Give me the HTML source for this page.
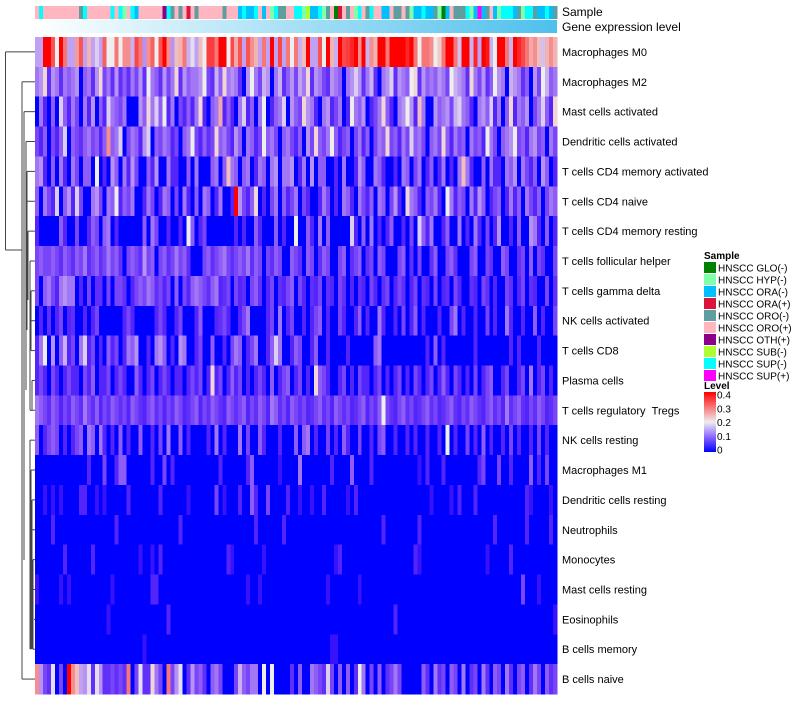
<!DOCTYPE html>
<html><head><meta charset="utf-8"><style>
html,body{margin:0;padding:0;background:#fff;}
body{width:800px;height:700px;overflow:hidden;font-family:"Liberation Sans",sans-serif;}
svg text{font-family:"Liberation Sans",sans-serif;white-space:pre;}
</style></head><body>
<svg id="chart" width="800" height="700" xmlns="http://www.w3.org/2000/svg" shape-rendering="crispEdges">
<defs>
<linearGradient id="geneGrad" x1="0" x2="1" y1="0" y2="0"><stop offset="0" stop-color="#ffffff"/><stop offset="1" stop-color="#4ec0ec"/></linearGradient>
<linearGradient id="levelGrad" x1="0" x2="0" y1="1" y2="0"><stop offset="0" stop-color="#0000ff"/><stop offset="0.25" stop-color="#8a66ff"/><stop offset="0.5" stop-color="#eeeeee"/><stop offset="1" stop-color="#ff0000"/></linearGradient>
</defs>
<g id="annot"></g>
<rect x="35" y="20" width="522" height="13" fill="url(#geneGrad)"/>
<text x="562" y="16" font-size="12">Sample</text>
<text x="562" y="31" font-size="12">Gene expression level</text>
<g id="cells"></g>
<g id="rowlabels"></g>
<g id="dendro" stroke="#444" stroke-width="1" fill="none" shape-rendering="auto"></g>
<g id="legend"></g>
</svg>
<script>
const rowNames=["Macrophages M0","Macrophages M2","Mast cells activated","Dendritic cells activated","T cells CD4 memory activated","T cells CD4 naive","T cells CD4 memory resting","T cells follicular helper","T cells gamma delta","NK cells activated","T cells CD8","Plasma cells","T cells regulatory\u00a0\u00a0Tregs","NK cells resting","Macrophages M1","Dendritic cells resting","Neutrophils","Monocytes","Mast cells resting","Eosinophils","B cells memory","B cells naive"];
const sampleCats=["HNSCC GLO(-)","HNSCC HYP(-)","HNSCC ORA(-)","HNSCC ORA(+)","HNSCC ORO(-)","HNSCC ORO(+)","HNSCC OTH(+)","HNSCC SUB(-)","HNSCC SUP(-)","HNSCC SUP(+)"];
const sampleColors=["#008000","#7fffaa","#00bfff","#dc143c","#5f9ea0","#ffb6c1","#8b008b","#adff2f","#00ffff","#ff00ff"];
const sampleSeq="PCPPPPPPPPPTCPPPPPPCPCHPCDPPPPPPOCTPTPRPTPPPPPPTPPPDCDDCPDPHCTTPPCCHSDDCHTPGRPTPHCPTCPPDDPTTPTHDDCDDTHGDPTTTCHDMDTPDHCCCDTHCCTDDCDT";
const sampleCode={G:0,H:1,D:2,R:3,T:4,P:5,O:6,S:7,C:8,M:9};
const levelTicks=[0,0.1,0.2,0.3,0.4];
// values in hundredths (0..40 = 0..0.4)
const rowM0=[15,15,40,40,33,20,40,30,15,15,27,33,15,25,15,18,15,32,20,20,30,20,28,28,16,34,30,14,28,32,20,33,40,28,14,24,25,30,16,19,15,24,20,35,35,30,40,40,20,34,26,33,15,33,28,25,15,30,15,40,15,34,15,30,20,30,16,24,40,15,15,33,20,40,25,16,40,34,35,37,40,28,40,16,28,25,40,40,30,40,40,40,40,37,40,30,20,30,30,28,20,23,30,40,40,30,17,40,40,16,37,15,40,38,16,20,40,40,30,16,40,37,34,30,26,28,24,17,25,28,25];
const rowM2=[12,14,22,6,14,12,6,12,10,12,14,0,10,12,6,14,22,8,12,6,14,6,10,6,12,8,14,6,20,12,10,6,14,8,12,22,6,14,10,12,12,14,20,8,6,16,10,22,12,14,12,6,0,14,20,12,8,16,14,0,12,16,6,10,14,8,15,12,22,6,14,12,8,6,14,12,10,0,12,14,18,14,6,12,16,6,0,12,14,18,6,14,12,10,20,22,6,14,10,12,10,14,12,8,20,16,14,12,6,22,12,8,14,6,10,20,14,12,0,16,14,12,6,10,0,14,8,20,16,10,12];
const rowMastAct=[0,12,5,0,10,0,18,10,5,12,8,0,12,5,14,0,10,5,18,12,10,8,12,0,0,0,14,10,22,12,18,10,20,5,12,0,8,5,10,5,12,22,5,0,10,12,26,5,10,5,0,12,18,5,10,0,12,20,0,5,10,12,18,0,14,10,8,22,14,12,5,0,12,14,5,8,12,0,5,20,12,10,14,0,5,8,12,22,10,5,0,12,14,20,14,5,24,12,0,0,14,10,12,14,8,16,18,12,10,5,0,12,14,10,18,5,12,0,10,22,5,12,10,14,0,8,12,18,10,5,22];
const rowDCAct=[8,5,10,0,8,5,10,18,0,10,8,6,10,12,8,10,5,10,28,10,12,18,0,8,12,10,5,14,18,0,10,8,12,10,5,8,0,10,12,20,8,5,10,6,8,22,10,12,8,5,14,10,0,12,10,5,8,20,10,12,8,0,10,12,8,5,10,0,14,8,22,10,8,12,20,10,5,8,10,0,8,12,5,10,0,8,12,10,22,8,10,5,12,8,18,10,12,8,0,10,12,8,22,10,5,12,8,10,0,12,8,10,5,20,12,8,0,10,12,14,20,8,10,5,12,14,8,10,0,12,8];
const rowCD4MemAct=[12,14,5,0,10,0,12,5,0,12,8,0,10,10,0,20,0,5,0,14,10,0,12,5,14,8,0,0,10,5,14,0,0,12,5,5,0,0,10,0,12,0,0,0,10,12,0,10,24,12,10,0,10,12,0,5,12,10,0,12,14,0,12,12,14,0,5,12,0,14,0,10,10,0,0,5,0,12,0,0,5,14,10,0,0,12,10,5,0,0,5,0,12,10,0,8,12,0,5,10,0,5,12,0,5,0,12,24,12,5,0,0,10,0,12,5,5,0,12,10,14,0,12,8,5,10,0,14,10,0,5];
const rowCD4Naive=[10,0,12,8,5,18,0,10,14,5,18,8,0,0,12,14,8,0,12,10,20,5,10,8,12,0,0,5,12,8,0,5,12,10,0,8,0,12,5,0,10,0,12,10,0,5,12,0,0,5,40,14,8,5,10,22,0,5,0,8,12,0,10,5,8,12,0,8,5,0,0,5,12,8,0,5,0,12,10,5,0,12,8,5,10,0,12,10,0,8,14,5,0,22,12,10,5,0,10,8,12,5,0,20,12,5,10,8,0,12,5,14,10,0,5,8,10,0,5,12,5,10,0,12,8,5,10,0,8,12,10];
const rowCD4MemRest=[5,0,0,0,0,0,10,5,0,0,8,0,0,5,10,8,0,10,12,0,5,0,0,0,0,0,0,10,0,12,8,0,0,5,0,0,5,0,20,10,0,5,8,0,0,0,0,0,0,0,5,0,5,0,0,10,5,0,0,0,10,0,5,0,0,20,0,0,10,5,0,12,0,10,0,0,0,0,0,18,5,0,10,0,12,0,5,0,5,10,0,0,5,0,8,0,18,10,5,12,0,0,5,10,0,0,12,0,5,0,12,5,0,8,0,5,14,0,0,5,0,10,0,0,14,12,5,0,10,0,5];
const rowTfh=[8,10,8,8,10,8,6,10,8,6,10,8,12,6,8,10,6,8,12,8,10,6,0,8,10,8,6,14,8,10,0,8,10,6,8,12,8,10,6,0,0,0,8,10,6,8,10,12,8,6,8,10,8,12,6,10,8,0,8,6,10,8,0,0,10,8,6,0,10,8,0,6,10,8,0,0,8,10,0,6,8,10,0,6,8,0,10,8,0,0,0,8,10,0,6,0,8,0,0,6,10,0,0,8,10,6,0,0,0,8,10,0,0,8,6,0,0,10,8,0,0,6,8,0,10,0,8,6,0,0,8];
const rowGammaDelta=[8,0,10,12,8,5,12,14,12,12,0,5,0,8,0,6,6,0,8,0,8,8,6,0,5,8,10,8,12,10,6,8,5,8,0,10,0,8,5,10,12,10,8,6,10,12,5,6,8,0,8,5,6,0,8,10,6,0,5,8,0,6,5,8,10,0,8,5,0,6,5,8,0,6,5,0,8,6,0,5,0,6,5,0,8,5,0,6,8,0,5,8,6,0,5,8,0,6,5,0,8,0,5,6,0,8,5,0,0,6,5,0,8,6,0,5,0,0,8,6,0,5,8,0,6,5,0,0,8,0,6];
const rowNKAct=[0,5,0,6,0,5,8,0,5,6,0,0,5,0,5,8,0,0,0,0,0,0,5,8,5,0,0,0,0,0,5,8,5,0,0,5,8,0,0,0,5,10,0,0,0,5,6,8,5,0,0,5,8,12,0,0,0,0,5,8,0,12,0,5,8,0,0,5,0,5,8,10,0,5,0,0,8,5,0,0,5,10,0,5,0,0,12,5,0,0,5,0,8,0,5,10,0,5,0,0,0,5,0,0,8,12,0,5,0,0,5,0,0,8,0,5,0,0,12,5,0,0,5,0,0,10,0,5,0,0,8];
const rowCD8=[5,12,20,0,14,0,10,16,5,8,0,12,18,5,8,0,5,0,10,5,8,0,5,12,10,14,0,0,5,0,12,14,10,0,5,0,14,12,0,0,5,8,0,0,10,0,0,5,0,8,12,10,0,5,8,12,0,0,5,10,18,12,0,0,5,10,8,0,0,5,10,0,0,5,0,0,0,0,5,0,0,0,0,0,0,10,12,0,0,0,0,0,0,0,0,0,0,0,5,0,10,0,5,0,0,0,0,0,0,0,5,0,0,0,0,0,0,0,0,5,0,5,0,0,0,0,5,0,0,0,0];
const rowPlasma=[5,8,5,0,8,5,0,5,8,5,5,0,8,5,10,0,5,5,8,0,5,8,5,0,0,10,5,0,5,8,0,5,8,5,0,5,5,0,5,8,5,8,0,5,22,5,8,0,5,10,5,8,0,5,0,5,8,5,0,10,0,5,8,10,0,5,8,0,5,0,22,10,8,5,0,0,5,8,0,5,0,8,5,5,0,5,8,0,5,0,5,8,0,5,0,8,5,0,5,8,0,5,10,5,0,8,5,0,5,0,8,0,5,8,10,0,0,5,8,0,0,5,8,0,12,0,5,8,0,5,0];
const rowTregs=[12,10,8,6,10,8,5,8,6,10,8,6,12,8,6,10,5,8,6,10,8,6,8,5,10,8,6,5,8,10,6,8,5,8,6,10,8,5,6,8,10,5,8,6,10,8,6,5,10,8,6,8,10,5,8,6,10,8,5,12,10,6,8,5,10,8,6,8,5,6,8,10,6,8,5,10,8,6,8,5,6,8,10,5,8,6,10,20,8,6,5,8,10,6,8,5,6,8,10,6,8,5,6,8,10,6,5,8,6,10,8,6,5,8,10,6,8,5,12,6,8,10,6,5,8,6,10,8,5,6,8];
const rowNKRest=[10,0,5,8,10,8,0,5,0,5,8,10,0,12,10,0,12,5,0,5,0,10,0,5,0,0,10,0,0,5,0,8,0,12,0,0,10,0,5,0,0,0,0,5,0,12,0,5,0,0,0,12,0,8,0,0,10,5,0,0,0,5,0,0,0,10,0,10,12,0,5,0,0,8,0,5,0,10,5,0,0,8,0,0,5,0,8,10,0,0,5,0,0,5,0,5,0,0,5,0,0,5,0,20,0,5,0,0,8,0,5,0,10,0,5,0,0,5,0,8,0,5,0,0,5,0,8,0,5,0,0];
const rowM1=[0,0,0,0,0,0,0,0,0,0,0,0,0,5,0,0,0,8,0,0,5,10,10,0,0,0,0,0,0,5,0,0,8,0,5,0,0,0,0,0,0,0,0,0,0,0,5,0,0,0,0,0,0,5,10,0,0,0,0,0,0,3,0,0,0,0,12,0,0,0,0,0,0,0,5,0,0,0,0,10,0,0,0,0,5,0,0,0,0,0,0,0,0,0,0,0,3,0,5,0,0,0,5,0,0,0,0,0,0,0,0,5,8,0,0,0,8,0,0,5,0,0,0,0,10,0,5,0,8,0,0];
const rowDCRest=[0,0,3,0,3,0,3,0,0,0,0,5,5,0,0,3,0,3,0,0,0,0,0,5,0,0,0,0,0,0,0,5,0,0,0,0,0,0,3,0,0,0,0,0,0,8,0,3,0,0,0,5,0,0,10,5,0,0,8,0,0,0,0,5,0,0,3,0,0,3,0,0,5,0,0,0,0,0,3,0,5,0,0,0,0,0,0,0,0,0,0,0,0,0,0,0,0,0,0,3,0,0,0,0,3,0,5,0,0,0,5,0,0,0,0,0,0,0,0,0,0,0,0,5,3,0,0,0,0,3,0];
const rowNeutro=[0,0,0,0,5,0,0,0,0,0,0,0,0,0,0,0,0,0,0,0,5,0,0,0,0,0,0,0,0,0,0,0,0,0,0,0,5,0,0,0,0,0,0,0,0,0,0,0,0,0,0,0,0,0,0,5,0,0,0,0,0,0,5,0,0,0,0,0,0,0,0,0,0,0,0,0,0,0,0,0,0,0,0,0,0,0,0,5,0,0,0,0,0,0,0,0,5,0,0,0,0,0,0,0,0,0,0,0,0,0,0,0,0,0,0,5,0,0,0,0,0,0,0,5,0,0,0,0,0,5,0];
const rowMono=[0,0,0,0,0,0,0,5,0,0,0,0,0,0,5,0,0,0,0,0,0,0,0,0,0,0,3,0,0,3,0,5,0,0,0,0,0,0,0,0,0,0,0,0,0,0,0,0,5,3,0,0,0,0,0,0,0,3,0,0,0,0,0,0,0,0,0,0,0,0,0,0,0,0,0,3,5,0,0,0,0,0,0,0,0,0,0,0,0,0,0,0,0,0,0,5,3,0,0,0,0,0,0,0,0,0,0,0,0,0,0,0,0,3,0,0,0,0,0,5,0,0,0,0,0,0,0,0,0,0,0];
const rowMastRest=[3,0,0,0,0,0,3,0,3,0,0,0,0,0,0,0,0,0,0,3,0,0,0,0,0,0,0,0,0,5,5,0,0,0,0,0,0,0,0,0,0,0,0,0,0,0,0,0,0,0,0,0,0,3,0,0,3,0,0,0,0,0,0,0,0,0,0,0,0,0,0,0,0,3,0,0,0,0,0,0,0,3,0,0,0,0,0,0,0,0,0,0,0,0,0,0,0,0,0,0,0,0,0,0,0,0,0,0,0,0,0,0,0,0,0,0,0,0,0,0,0,0,8,0,0,0,3,0,0,0,0];
const rowEos=[0,0,0,0,0,0,0,0,0,0,0,0,0,0,0,0,0,0,3,0,0,0,0,0,0,0,0,0,0,0,0,0,0,5,0,0,0,0,0,0,0,0,0,0,0,0,0,0,0,0,0,0,0,0,0,0,0,0,0,0,0,0,0,0,0,0,0,0,0,0,0,0,0,0,0,0,0,0,0,0,0,0,0,0,0,0,0,0,0,0,5,0,0,0,0,0,0,0,0,0,0,0,0,0,0,0,0,0,0,0,0,0,0,0,0,0,0,0,0,0,0,0,0,0,0,0,0,0,0,0,3];
const rowBMem=[0,0,0,0,0,0,0,0,0,0,0,0,0,0,0,0,0,0,0,0,0,0,0,0,0,0,0,3,0,0,0,0,0,0,0,0,0,0,0,0,0,0,0,0,0,0,0,0,0,0,0,0,0,0,0,0,0,0,0,0,0,0,0,0,0,0,0,0,0,0,0,0,0,0,3,3,0,0,0,0,0,0,0,0,0,0,0,0,0,0,0,0,0,0,0,0,0,0,0,0,0,0,0,0,0,0,0,0,0,0,0,0,0,0,0,0,0,0,0,0,0,0,0,0,0,0,0,0,0,0,0];
const rowBNaive=[28,14,8,6,19,0,8,0,40,28,24,15,14,19,6,19,14,6,6,8,6,8,6,30,0,8,19,6,6,22,12,8,0,30,8,14,19,0,6,14,8,10,6,0,10,12,8,0,0,0,8,16,10,8,12,12,0,20,0,20,0,0,0,0,6,0,10,0,0,12,10,8,6,18,8,0,10,0,10,0,6,20,12,0,8,0,10,0,6,8,12,8,0,0,0,0,0,10,6,0,12,6,8,0,10,8,0,12,0,6,8,0,12,6,0,10,8,0,12,6,0,8,10,0,6,12,8,0,10,6,8];
const matrix=[rowM0,rowM2,rowMastAct,rowDCAct,rowCD4MemAct,rowCD4Naive,rowCD4MemRest,rowTfh,rowGammaDelta,rowNKAct,rowCD8,rowPlasma,rowTregs,rowNKRest,rowM1,rowDCRest,rowNeutro,rowMono,rowMastRest,rowEos,rowBMem,rowBNaive];

const NS="http://www.w3.org/2000/svg";
const X0=35,X1=557,Y0=37,Y1=694;
const nCols=rowM0.length,nRows=matrix.length;
const cw=(X1-X0)/nCols,rh=(Y1-Y0)/nRows;
const xPos=i=>X0+i*cw;
const yPos=r=>Y0+r*rh;
function colorOf(v){let t=Math.max(0,Math.min(1,v/0.4));let r,g,b;
 if(t<0.5){const k=t*2;r=Math.round(238*Math.pow(k,0.75));g=Math.round(238*Math.pow(k,1.35));b=Math.round(255-17*k);}
 else{const k=(t-0.5)*2;r=Math.round(238+17*k);g=Math.round(238*(1-k));b=Math.round(238*(1-k));}
 return `rgb(${r},${g},${b})`;}
function mk(tag,attrs,parent){const e=document.createElementNS(NS,tag);for(const k in attrs)e.setAttribute(k,attrs[k]);parent.appendChild(e);return e;}

const annot=document.getElementById('annot');
for(let i=0;i<sampleSeq.length;i++){
 const c=sampleCode[sampleSeq[i]];
 const el=mk('rect',{x:xPos(i),y:6,width:cw+0.3,height:13,fill:sampleColors[c]},annot);
 
 
}
const cells=document.getElementById('cells');
matrix.forEach((row,r)=>{row.forEach((v,i)=>{
 const el=mk('rect',{x:xPos(i),y:yPos(r),width:cw+0.3,height:rh+0.3,fill:colorOf(v/100)},cells);
 
 
});});
const rl=document.getElementById('rowlabels');
rowNames.forEach((n,r)=>{
 const el=mk('text',{x:562,y:yPos(r)+rh/2+4,'font-size':11,fill:'#000'},rl);
 el.textContent=n;
 
 
});
const dg=document.getElementById('dendro');
const yc=r=>yPos(r)+rh/2;
const segs=[
 [5.5,yc(0),5.5,250],[5.5,yc(0),35,yc(0)],[5.5,250,22,250],
 [22,yc(1),22,yc(21)],[22,yc(1),35,yc(1)],[22,yc(21),35,yc(21)],
 [24,yc(2),24,560],[24,yc(2),35,yc(2)],
 [26,yc(3),26,390],[26,yc(3),35,yc(3)],
 [27,yc(4),27,330],[27,yc(4),35,yc(4)],[27,yc(5),35,yc(5)],
 [28,yc(6),28,300],[28,yc(6),35,yc(6)],
 [30,yc(7),30,yc(12)],[30,yc(7),35,yc(7)],[31,yc(8),35,yc(8)],[31,yc(9),35,yc(9)],[31,yc(8),31,yc(10)],[31,yc(10),35,yc(10)],[32,yc(11),35,yc(11)],[32,yc(11),32,yc(12)],[30,yc(12),35,yc(12)],
 [30,yc(13),30,yc(20)],[30,yc(13),35,yc(13)],[31,yc(14),35,yc(14)],[31,yc(14),31,yc(20)],[32,yc(15),35,yc(15)],[32,yc(16),35,yc(16)],[32,yc(15),32,yc(20)],[33,yc(17),35,yc(17)],[33,yc(18),35,yc(18)],[33,yc(17),33,yc(20)],[34,yc(19),35,yc(19)],[33,yc(20),35,yc(20)]
];
segs.forEach(s=>{const el=mk('line',{x1:s[0],y1:s[1],x2:s[2],y2:s[3]},dg);
 
 });
const lg=document.getElementById('legend');
const lt=mk('text',{x:704,y:259,'font-size':10,'font-weight':'bold'},lg);lt.textContent='Sample';


sampleCats.forEach((n,i)=>{
 const y=262+i*12;
 const sw=mk('rect',{x:704,y:y,width:12,height:11,fill:sampleColors[i]},lg);
 
 
 const t=mk('text',{x:718,y:y+9.5,'font-size':10},lg);t.textContent=n;
 
 
});
const lv=mk('text',{x:704,y:389,'font-size':10,'font-weight':'bold'},lg);lv.textContent='Level';


const gb=mk('rect',{x:704,y:392,width:12,height:60,fill:'url(#levelGrad)'},lg);


levelTicks.forEach(v=>{
 const y=450-(v/0.4)*55;
 const t=mk('text',{x:717,y:y+3.5,'font-size':10},lg);t.textContent=String(v);
 
 
});
</script>
</body></html>
